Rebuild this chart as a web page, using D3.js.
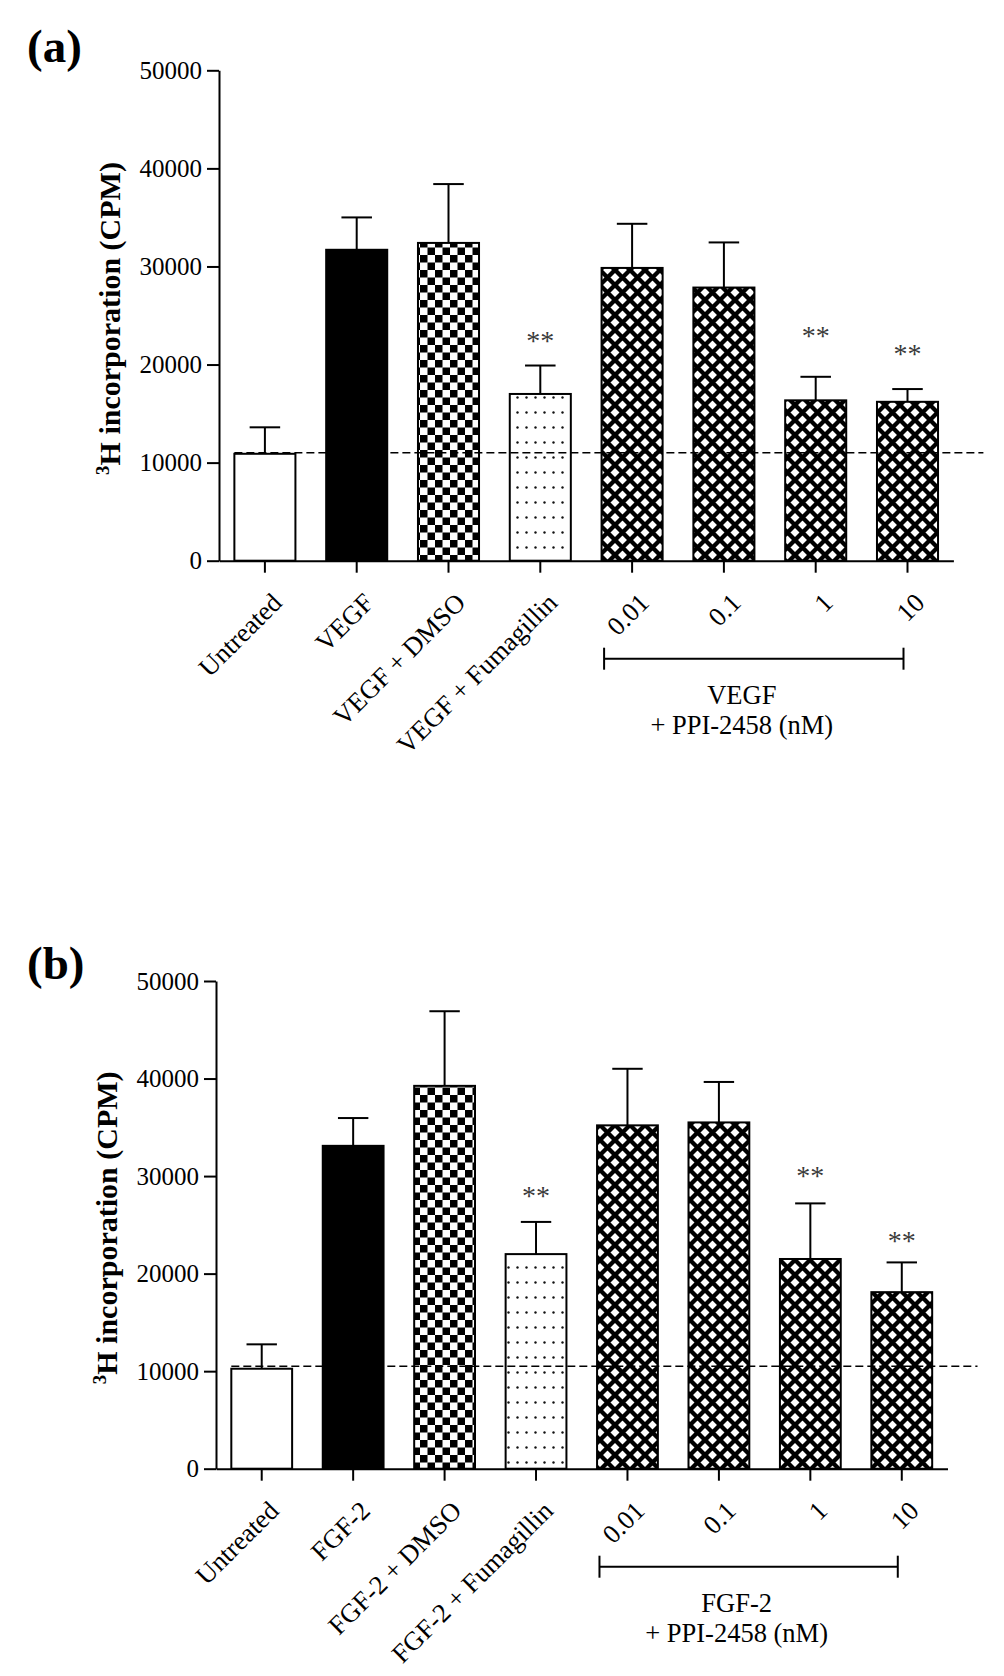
<!DOCTYPE html>
<html><head><meta charset="utf-8">
<script src="https://cdn.jsdelivr.net/npm/d3@7"></script>
<style>body{margin:0;background:#fff}</style>
</head><body>
<svg id="chart" width="1004" height="1676"></svg>
<script>
// ---------- data ----------
const yTicks = [0, 10000, 20000, 30000, 40000, 50000];

const categoriesA = ["Untreated", "VEGF", "VEGF + DMSO", "VEGF + Fumagillin", "0.01", "0.1", "1", "10"];
const meansA = [10900, 31700, 32400, 17000, 29850, 27850, 16350, 16200];
const errorsA = [2700, 3300, 6000, 2900, 4500, 4600, 2400, 1300];
const baselineA = 11000;
const starCatsA = ["VEGF + Fumagillin", "1", "10"];
const starValsA = [22800, 23300, 21500];
const groupLabelA = ["VEGF", "+ PPI-2458 (nM)"];

const categoriesB = ["Untreated", "FGF-2", "FGF-2 + DMSO", "FGF-2 + Fumagillin", "0.01", "0.1", "1", "10"];
const meansB = [10250, 33100, 39250, 22000, 35200, 35500, 21500, 18100];
const errorsB = [2500, 2850, 7650, 3300, 5800, 4150, 5700, 3050];
const baselineB = 10500;
const starCatsB = ["FGF-2 + Fumagillin", "1", "10"];
const starValsB = [28400, 30400, 23800];
const groupLabelB = ["FGF-2", "+ PPI-2458 (nM)"];

const yTitleMain = "H incorporation (CPM)";
const yTitleSup = "3";

// ---------- drawing ----------
const FONT = "'Liberation Serif','Times New Roman',Times,serif";
const svg = d3.select("#chart");
const defs = svg.append("defs");

// checkerboard
const chk = defs.append("pattern").attr("id", "checker").attr("patternUnits", "userSpaceOnUse")
  .attr("width", 15).attr("height", 15);
chk.append("rect").attr("width", 15).attr("height", 15).attr("fill", "#fff");
chk.append("rect").attr("width", 7.5).attr("height", 7.5).attr("fill", "#000");
chk.append("rect").attr("x", 7.5).attr("y", 7.5).attr("width", 7.5).attr("height", 7.5).attr("fill", "#000");

// dots
const dots = defs.append("pattern").attr("id", "dots").attr("patternUnits", "userSpaceOnUse")
  .attr("width", 9).attr("height", 15);
dots.append("rect").attr("width", 9).attr("height", 15).attr("fill", "#fff");
dots.append("circle").attr("cx", 4.5).attr("cy", 7.5).attr("r", 1.2).attr("fill", "#111");

// crosshatch
const cross = defs.append("pattern").attr("id", "cross").attr("patternUnits", "userSpaceOnUse")
  .attr("width", 15).attr("height", 15);
cross.append("rect").attr("width", 15).attr("height", 15).attr("fill", "#fff");
cross.append("path")
  .attr("d", "M0,0L15,15M15,0L0,15M-3,12L3,18M12,-3L18,3M-3,3L3,-3M12,18L18,12")
  .attr("stroke", "#000").attr("stroke-width", 4.3).attr("fill", "none");

const fills = ["#fff", "#000", "url(#checker)", "url(#dots)", "url(#cross)", "url(#cross)", "url(#cross)", "url(#cross)"];

function drawPanel(cfg) {
  const g = svg.append("g");
  const x = d3.scaleBand().domain(cfg.categories).range([cfg.x0, cfg.x1])
    .paddingInner(0.335).paddingOuter(0.1675);
  const y = d3.scaleLinear().domain([0, 50000]).range([cfg.yBot, cfg.yTop]);
  const bw = x.bandwidth();
  const cx = c => x(c) + bw / 2;

  // bars
  g.selectAll("rect.bar").data(cfg.categories).join("rect")
    .attr("class", "bar")
    .attr("x", d => x(d)).attr("width", bw)
    .attr("y", (d, i) => y(cfg.means[i]))
    .attr("height", (d, i) => cfg.yBot - y(cfg.means[i]))
    .attr("fill", (d, i) => fills[i])
    .attr("stroke", "#000").attr("stroke-width", 2);

  // error bars
  const eb = g.selectAll("g.err").data(cfg.categories).join("g").attr("class", "err")
    .attr("stroke", "#000").attr("stroke-width", 2);
  eb.append("line")
    .attr("x1", d => cx(d)).attr("x2", d => cx(d))
    .attr("y1", (d, i) => y(cfg.means[i])).attr("y2", (d, i) => y(cfg.means[i] + cfg.errors[i]));
  eb.append("line")
    .attr("x1", d => cx(d) - bw / 4).attr("x2", d => cx(d) + bw / 4)
    .attr("y1", (d, i) => y(cfg.means[i] + cfg.errors[i])).attr("y2", (d, i) => y(cfg.means[i] + cfg.errors[i]));

  // baseline dashed line
  g.append("line")
    .attr("x1", x(cfg.categories[0])).attr("x2", cfg.x1 + 30)
    .attr("y1", y(cfg.baseline)).attr("y2", y(cfg.baseline))
    .attr("stroke", "#000").attr("stroke-width", 1.6).attr("stroke-dasharray", "8,4");

  // stars
  g.selectAll("text.star").data(cfg.starCats).join("text")
    .attr("class", "star")
    .attr("x", d => cx(d)).attr("y", (d, i) => y(cfg.starVals[i]) + 13)
    .attr("text-anchor", "middle").attr("font-family", FONT).attr("font-size", 28)
    .attr("fill", "#3a3a3a").text("**");

  // y axis
  const ya = g.append("g").attr("transform", `translate(${cfg.x0},0)`)
    .call(d3.axisLeft(y).tickValues(yTicks).tickFormat(d3.format("d"))
      .tickSize(12).tickSizeOuter(0).tickPadding(5));
  ya.select(".domain").attr("stroke-width", 2);
  ya.selectAll(".tick line").attr("stroke-width", 2);
  ya.selectAll(".tick text").attr("font-family", FONT).attr("font-size", 25).attr("fill", "#000");

  // x axis
  const xa = g.append("g").attr("transform", `translate(0,${cfg.yBot})`)
    .call(d3.axisBottom(x).tickSize(12).tickSizeOuter(0).tickFormat(""));
  xa.select(".domain").attr("stroke-width", 2);
  xa.selectAll(".tick line").attr("stroke-width", 2);

  // category labels
  g.selectAll("text.cat").data(cfg.categories).join("text")
    .attr("class", "cat")
    .attr("transform", d => `translate(${cx(d) + 12},${cfg.yBot + 37}) rotate(-45)`)
    .attr("text-anchor", "end").attr("dy", "0.35em")
    .attr("font-family", FONT).attr("font-size", 26.5).attr("fill", "#000")
    .text(d => d);

  // bracket
  const bl = cx(cfg.categories[4]) - 28, br = cx(cfg.categories[7]) - 4, by = cfg.yBot + 98;
  const bk = g.append("g").attr("stroke", "#000").attr("stroke-width", 2);
  bk.append("line").attr("x1", bl).attr("x2", br).attr("y1", by).attr("y2", by);
  bk.append("line").attr("x1", bl).attr("x2", bl).attr("y1", by - 11).attr("y2", by + 11);
  bk.append("line").attr("x1", br).attr("x2", br).attr("y1", by - 11).attr("y2", by + 11);
  const gx = (bl + br) / 2 - 12;
  g.selectAll("text.grp").data(cfg.groupLabel).join("text")
    .attr("class", "grp")
    .attr("x", gx).attr("y", (d, i) => by + 45 + i * 30)
    .attr("text-anchor", "middle").attr("font-family", FONT).attr("font-size", 26.5).attr("fill", "#000")
    .text(d => d);

  // y title
  const yt = g.append("text")
    .attr("transform", `translate(${cfg.x0 - 99},${(cfg.yTop + cfg.yBot) / 2 + 3}) rotate(-90)`)
    .attr("text-anchor", "middle").attr("font-family", FONT).attr("font-weight", "bold")
    .attr("font-size", 30).attr("fill", "#000");
  yt.append("tspan").attr("font-size", 19).attr("dy", -11).text(yTitleSup);
  yt.append("tspan").attr("dy", 11).text(yTitleMain);

  // panel label
  g.append("text").attr("x", 27).attr("y", cfg.labelY)
    .attr("font-family", FONT).attr("font-weight", "bold").attr("font-size", 47).attr("fill", "#000")
    .text(cfg.label);
}

drawPanel({
  categories: categoriesA, means: meansA, errors: errorsA, baseline: baselineA,
  starCats: starCatsA, starVals: starValsA, groupLabel: groupLabelA,
  x0: 219, x1: 953.4, yTop: 70.3, yBot: 560.7, label: "(a)", labelY: 62
});
drawPanel({
  categories: categoriesB, means: meansB, errors: errorsB, baseline: baselineB,
  starCats: starCatsB, starVals: starValsB, groupLabel: groupLabelB,
  x0: 216, x1: 947.5, yTop: 981, yBot: 1468.7, label: "(b)", labelY: 979
});
</script>
</body></html>
